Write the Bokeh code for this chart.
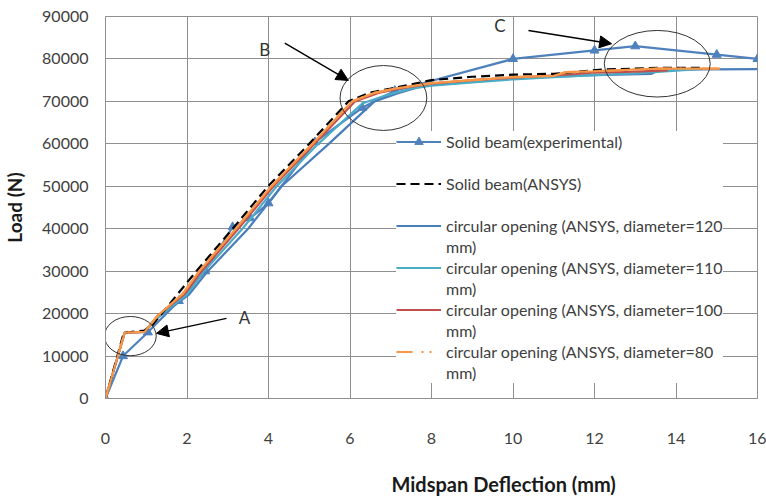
from bokeh.plotting import figure
from bokeh.models import (Range1d, Legend, LegendItem, Arrow, NormalHead, Label, Title,
                          FixedTicker, BasicTickFormatter)
from bokeh.embed import file_html
from bokeh.resources import INLINE

# ---------------- data ----------------
exp_x = [0, 0.43, 1.04, 1.8, 2.45, 3.12, 3.55, 4.0, 5.14, 6.3, 7.1, 10.0, 12.0, 13.0, 15.0, 16.0]
exp_y = [0, 10000, 15600, 23000, 30000, 40400, 42500, 46000, 60400, 68500, 72500, 80000, 82000, 83000, 81000, 80000]

solid_x = [0, 0.45, 0.95, 1.15, 2.23, 3.12, 3.99, 5.0, 5.96, 6.5, 7.0, 7.6, 8.0, 9.0, 10.0, 11.0, 12.2, 13.6, 14.6]
solid_y = [0, 15500, 16000, 17300, 30000, 40000, 50000, 60000, 70000, 72100, 73000, 74200, 75000, 75800, 76300, 76500, 77500, 77900, 77900]

d120_x = [0, 0.47, 0.96, 1.3, 2.05, 2.51, 3.5, 4.32, 5.48, 6.6, 7.2, 7.7, 8.0, 9.0, 10.0, 12.0, 13.4, 13.6, 16.0]
d120_y = [0, 15500, 15700, 19200, 24500, 30000, 40000, 50000, 60000, 70000, 72000, 73400, 73800, 74600, 75400, 76200, 76500, 77500, 77600]

d110_x = [0, 0.47, 0.96, 1.3, 2.0, 2.42, 3.36, 4.2, 5.22, 6.3, 6.9, 7.5, 8.0, 9.0, 10.0, 11.0, 12.0, 13.0, 14.55]
d110_y = [0, 15500, 15700, 19300, 24500, 30000, 40000, 50000, 60000, 69500, 71500, 73000, 73700, 74500, 75200, 75700, 76200, 76600, 77600]

d100_x = [0, 0.47, 0.96, 1.29, 1.95, 2.36, 3.26, 4.12, 5.13, 6.12, 6.7, 7.2, 8.0, 9.0, 10.0, 11.5, 12.0, 13.0, 13.8]
d100_y = [0, 15500, 15700, 19600, 24700, 30000, 40000, 50000, 60000, 70000, 72000, 73000, 74200, 75000, 75600, 76400, 76800, 77000, 77300]

d80_x = [0, 0.47, 0.96, 1.29, 1.9, 2.3, 3.2, 4.07, 5.08, 6.05, 6.6, 7.1, 8.0, 9.0, 10.0, 11.0, 11.3, 12.0, 13.5, 15.08]
d80_y = [0, 15500, 15700, 19600, 24700, 30000, 40000, 50000, 60000, 70000, 72000, 73000, 74300, 75000, 75700, 76000, 76900, 77100, 77700, 77700]

x_ticks = [0, 2, 4, 6, 8, 10, 12, 14, 16]
y_ticks = [0, 10000, 20000, 30000, 40000, 50000, 60000, 70000, 80000, 90000]

series_labels = ["Solid beam(experimental)",
                 "Solid beam(ANSYS)",
                 "circular opening (ANSYS, diameter=120",
                 "circular opening (ANSYS, diameter=110",
                 "circular opening (ANSYS, diameter=100",
                 "circular opening (ANSYS, diameter=80"]
second_lines = [" ", " ", "mm)", "mm)", "mm)", "mm)"]

# annotation ellipses (A, B, C)
ell_x = [0.61, 6.82, 13.54]
ell_y = [14700, 70800, 78870]
ell_w = [1.27, 2.13, 2.6]
ell_h = [9250, 15300, 15700]

FONT = "Lato"
TXT = "#404040"
GRID = "#8f8f8f"

p = figure(width=766, height=496, output_backend="svg", toolbar_location=None,
           x_range=Range1d(0, 16), y_range=Range1d(0, 90000),
           min_border_left=104, min_border_right=9, min_border_top=16, min_border_bottom=98)
p.outline_line_color = GRID
p.background_fill_color = "white"
p.border_fill_color = "white"

for ax in (p.xaxis[0], p.yaxis[0]):
    ax.axis_line_color = GRID
    ax.major_tick_line_color = None
    ax.minor_tick_line_color = None
    ax.major_label_text_font = FONT
    ax.major_label_text_font_size = "16px"
    ax.major_label_text_color = TXT

p.xaxis[0].ticker = FixedTicker(ticks=x_ticks)
p.yaxis[0].ticker = FixedTicker(ticks=y_ticks)
p.yaxis[0].formatter = BasicTickFormatter(use_scientific=False)
p.xaxis[0].major_label_standoff = 28
p.yaxis[0].major_label_standoff = 11

p.yaxis[0].axis_label = "Load (N)"
p.yaxis[0].axis_label_text_font = FONT
p.yaxis[0].axis_label_text_font_style = "bold"
p.yaxis[0].axis_label_text_font_size = "19px"
p.yaxis[0].axis_label_text_color = "#1a1a1a"
p.yaxis[0].axis_label_standoff = 13

# spacer label on the x axis so that the title below sits at the bottom edge
p.xaxis[0].axis_label = " "
p.xaxis[0].axis_label_standoff = 0
p.xaxis[0].axis_label_text_font_size = "18px"

p.xgrid.ticker = FixedTicker(ticks=x_ticks)
p.ygrid.ticker = FixedTicker(ticks=y_ticks)
p.xgrid.grid_line_color = GRID
p.ygrid.grid_line_color = GRID

xt = Title(text="Midspan  Deflection (mm)", align="left", offset=286, standoff=0,
           text_font=FONT, text_font_size="20px", text_font_style="bold", text_color="#1a1a1a")
p.add_layout(xt, "below")

# ---------------- series ----------------
LW = 2.2
r_exp = p.line(exp_x, exp_y, line_color="#4F81BD", line_width=LW)
r_expm = p.scatter(exp_x, exp_y, marker="triangle", size=9, fill_color="#4F81BD", line_color="#4F81BD")
r_120 = p.line(d120_x, d120_y, line_color="#4A7EBB", line_width=LW)
r_110 = p.line(d110_x, d110_y, line_color="#4BACC6", line_width=LW)
r_100 = p.line(d100_x, d100_y, line_color="#C0504D", line_width=LW)
r_solid = p.line(solid_x, solid_y, line_color="black", line_width=LW, line_dash="9 5")
r_80leg = p.line(d80_x, d80_y, line_color="#F79646", line_width=LW, line_dash="16 9 2 6 2 12")
r_80 = p.line(d80_x, d80_y, line_color="#F79646", line_width=LW)

# annotations
p.ellipse(x=ell_x, y=ell_y, width=ell_w, height=ell_h, fill_color=None,
          line_color="#333333", line_width=1)
for (xs, ys, xe, ye) in [(2.97, 18870, 1.25, 15340), (4.4, 83720, 5.96, 74940), (10.38, 86710, 12.42, 83580)]:
    p.add_layout(Arrow(end=NormalHead(size=12, fill_color="black", line_color="black", line_width=1),
                       x_start=xs, y_start=ys, x_end=xe, y_end=ye, line_width=1.4, line_color="black"))
for (tx, ty, t) in [(3.41, 19180, "A"), (3.91, 82180, "B"), (9.68, 87880, "C")]:
    p.add_layout(Label(x=tx, y=ty, text=t, text_align="center", text_baseline="middle",
                       text_font=FONT, text_font_size="17px", text_color="#333333"))

rends = [[r_exp, r_expm], [r_solid], [r_120], [r_110], [r_100], [r_80leg]]
items = []
for lab, lab2, rr in zip(series_labels, second_lines, rends):
    items.append(LegendItem(label=lab, renderers=rr))
    items.append(LegendItem(label=lab2, renderers=[]))

legend = Legend(items=items, location=(291, 15))
legend.border_line_color = None
legend.background_fill_color = "white"
legend.background_fill_alpha = 1.0
legend.label_text_font = FONT
legend.label_text_font_size = "16px"
legend.label_text_color = TXT
legend.glyph_width = 45
legend.glyph_height = 21
legend.label_height = 21
legend.label_standoff = 5
legend.spacing = 0
legend.padding = 3
legend.margin = 0
p.add_layout(legend)

open("out.html", "w").write(file_html(p, INLINE))
